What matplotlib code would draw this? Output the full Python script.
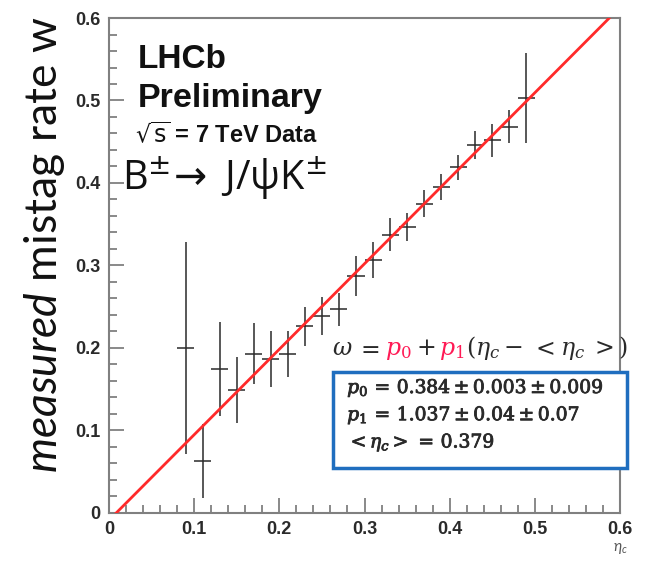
import matplotlib
matplotlib.use('Agg')
import matplotlib.pyplot as plt
import matplotlib.patheffects as pe
from matplotlib.patches import Rectangle
from matplotlib.ticker import MultipleLocator


# Data
ETA = [0.09, 0.11, 0.13, 0.15, 0.17, 0.19, 0.21, 0.23, 0.25, 0.27, 0.29,
       0.31, 0.33, 0.35, 0.37, 0.39, 0.41, 0.43, 0.45, 0.47, 0.49]
W = [0.200, 0.063, 0.175, 0.149, 0.193, 0.187, 0.193, 0.226, 0.239, 0.247,
     0.287, 0.307, 0.337, 0.347, 0.375, 0.395, 0.419, 0.446, 0.452, 0.468,
     0.503]
W_ERR = [0.128, 0.045, 0.057, 0.040, 0.037, 0.034, 0.028, 0.024, 0.023,
         0.020, 0.024, 0.022, 0.020, 0.017, 0.016, 0.016, 0.015, 0.017,
         0.020, 0.020, 0.054]
ETA_ERR = 0.01

# fit parameters
P0 = 0.384
P1 = 1.037
ETA_MEAN = 0.379
FIT_X = [0.0, 0.6]

BOX_LINES = [r'$p_0\, =\, 0.384 \pm 0.003 \pm 0.009$',
             r'$p_1\, =\, 1.037 \pm 0.04 \pm 0.07$',
             r'$<\eta_c>\, =\, 0.379$']

plt.rcParams['mathtext.fontset'] = 'custom'
plt.rcParams['mathtext.rm'] = 'Lato'
plt.rcParams['mathtext.it'] = 'Lato:italic'
plt.rcParams['mathtext.bf'] = 'Lato:bold'

FRAME = '#808080'
INK = '#2a2a2a'
RED = '#ff1a55'


def     rainbow_text(ax, fig, x, y, pieces, size, mathfont):
    '''
    Put coloured pieces of text one after another on a baseline,
    each piece is (text, colour, gap after in px)
    '''
    renderer = fig.canvas.get_renderer()
    for txt, col, gap in pieces:
        t = ax.text(x, y, txt, color=col, fontsize=size, va='baseline',
                    ha='left', transform=ax.transAxes,
                    math_fontfamily=mathfont)
        w = t.get_window_extent(renderer).width
        x += (w + gap) / ax.bbox.width


fig = plt.figure(figsize=(6.48, 5.63), dpi=100)
ax = fig.add_axes([0.168, 0.089, 0.789, 0.879])

# fit line
fit_y = [P0 + P1 * (x - ETA_MEAN) for x in FIT_X]
ax.plot(FIT_X, fit_y, color='#ff2a2a', lw=2, zorder=3)

# data points
ax.errorbar(ETA, W, yerr=W_ERR, xerr=ETA_ERR, fmt='none', ecolor=INK,
            elinewidth=1.1, capsize=0, zorder=2)

ax.set_xlim(0, 0.6)
ax.set_ylim(0, 0.6)

# ROOT-like ticks
ax.xaxis.set_major_locator(MultipleLocator(0.1))
ax.xaxis.set_minor_locator(MultipleLocator(0.02))
ax.yaxis.set_major_locator(MultipleLocator(0.1))
ax.yaxis.set_minor_locator(MultipleLocator(0.02))
ax.tick_params(which='both', direction='in', color=FRAME, width=1.3,
               top=False, right=False)
ax.tick_params(which='major', length=11, pad=6, labelsize=13,
               labelcolor=INK)
ax.tick_params(which='minor', length=6)
ax.xaxis.set_major_formatter(lambda v, p: '0' if abs(v) < 1e-9 else f'{v:.1f}')
ax.yaxis.set_major_formatter(lambda v, p: '0' if abs(v) < 1e-9 else f'{v:.1f}')
for lab in ax.get_xticklabels() + ax.get_yticklabels():
    lab.set_fontfamily('Liberation Sans')
    lab.set_fontweight('bold')
for sp in ax.spines.values():
    sp.set_color(FRAME)
    sp.set_linewidth(1.5)

# axis titles
ax.set_ylabel(r'$\mathit{measured}$ mistag rate w', fontsize=32,
              family='Lato', color='#111111', math_fontfamily='custom')
ax.yaxis.set_label_coords(-0.082, 0.541)
ax.text(1.0, -0.071, r'$\eta_c$', fontsize=11, color='#555555',
        ha='center', va='center', transform=ax.transAxes)

# LHCb labels
ax.text(0.057, 0.9, 'LHCb', fontsize=24, fontweight='bold',
        family='Liberation Sans', color='#111111', transform=ax.transAxes,
        va='baseline')
ax.text(0.057, 0.82, 'Preliminary', fontsize=24.5, fontweight='bold',
        family='Liberation Sans', color='#111111', transform=ax.transAxes,
        va='baseline')
ax.text(0.051, 0.747, r'$\sqrt{\mathrm{s}}$ = 7 TeV Data', fontsize=17,
        fontweight='bold', family='Liberation Sans', color='#111111',
        transform=ax.transAxes, va='baseline', math_fontfamily='dejavusans')
ax.text(0.026, 0.653, r'B$^{\pm}\!\rightarrow$ J/ψK$^{\pm}$', fontsize=28.5,
        family='Open Sans', color='#111111',
        transform=ax.transAxes, va='baseline', math_fontfamily='dejavusans')

# formula with red parameters
rainbow_text(ax, fig, 0.436, 0.319,
             [(r'$\omega$', INK, 4), (r'$=$', INK, 5),
              (r'$p_0$', RED, 4), (r'$+$', INK, 4),
              (r'$p_1$', RED, 2), (r'$(\eta_c-$', INK, 8),
              (r'$<$', INK, 5), (r'$\eta_c$', INK, 5),
              (r'$>)$', INK, 0)],
             17, 'dejavuserif')

# parameter box
ax.add_patch(Rectangle((0.438, 0.091), 0.575, 0.194, transform=ax.transAxes,
                       facecolor='white', edgecolor='#1f6ebf', lw=2.5,
                       clip_on=False, zorder=4))
for i, line in enumerate(BOX_LINES):
    ax.text(0.466, 0.242 - i * 0.055, line, fontsize=13.5, color=INK,
            transform=ax.transAxes, va='baseline',
            math_fontfamily='dejavuserif', zorder=5,
            path_effects=[pe.withStroke(linewidth=0.6, foreground=INK)])

fig.savefig('out.png', dpi=100)
